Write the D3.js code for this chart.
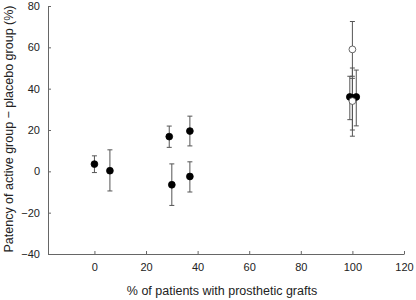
<!DOCTYPE html>
<html>
<head>
<meta charset="utf-8">
<script src="https://cdn.jsdelivr.net/npm/d3@7"></script>
<style>
  body { margin: 0; background: #fff; }
  text { font-family: "Liberation Sans", Arial, sans-serif; fill: #222; }
</style>
</head>
<body>
<script>
// trials: % prosthetic grafts, patency difference, error bar low/high, open marker?
var xPct   = [0,   6,    29,   37,   30,   37,    99,  100,  101.5, 100,  100];
var yDiff  = [3.5, 0.3,  16.8, 19.5, -6.5, -2.5,  36,  35.5, 36,    59,   34];
var yLow   = [-0.6, -9.5, 11.6, 12.3, -16.5, -10, 25,  20,   22,    46,   17];
var yHigh  = [7.5, 10.4, 21.9, 26.7, 3.6,  4.6,   46,  45,   49,    72.5, 50];
var isOpen = [0,   0,    0,    0,    0,    0,     0,   0,    0,     1,    1];

var xTicks = [0, 20, 40, 60, 80, 100, 120];
var yTicks = [-40, -20, 0, 20, 40, 60, 80];

var w = 416, h = 300;
var svg = d3.select("body").append("svg")
  .attr("width", w).attr("height", h);

var x = d3.scaleLinear().domain([-18, 120]).range([48, 404]);
var y = d3.scaleLinear().domain([-40, 80]).range([254, 6]);

// axes, ticks pointing inward
var xAxis = svg.append("g")
  .attr("transform", "translate(0," + y(-40) + ")")
  .call(d3.axisBottom(x).tickValues(xTicks).tickSize(-3).tickPadding(9).tickSizeOuter(0));
var yAxis = svg.append("g")
  .attr("transform", "translate(" + x(-18) + ",0)")
  .call(d3.axisLeft(y).tickValues(yTicks).tickSize(-3).tickPadding(8).tickSizeOuter(0));

[xAxis, yAxis].forEach(function(a) {
  a.select(".domain").attr("stroke", "#666").attr("stroke-width", 1);
  a.selectAll(".tick line").attr("stroke", "#666");
  a.selectAll(".tick text").style("font-size", "11px").attr("fill", "#222")
    .style("font-family", "'Liberation Sans', Arial, sans-serif");
});
yAxis.selectAll(".tick text").text(function(d) { return d < 0 ? "\u2212" + Math.abs(d) : d; });

var pts = xPct.map(function(v, i) {
  return {x: v, y: yDiff[i], lo: yLow[i], hi: yHigh[i], open: isOpen[i]};
});

// error bars
var eb = svg.append("g").attr("stroke", "#555").attr("stroke-width", 1);
pts.forEach(function(d) {
  var cx = x(d.x);
  eb.append("line").attr("x1", cx).attr("x2", cx).attr("y1", y(d.lo)).attr("y2", y(d.hi));
  eb.append("line").attr("x1", cx - 2.5).attr("x2", cx + 2.5).attr("y1", y(d.lo)).attr("y2", y(d.lo));
  eb.append("line").attr("x1", cx - 2.5).attr("x2", cx + 2.5).attr("y1", y(d.hi)).attr("y2", y(d.hi));
});

// markers
svg.append("g").selectAll("circle")
  .data(pts).enter().append("circle")
  .attr("cx", function(d) { return x(d.x); })
  .attr("cy", function(d) { return y(d.y); })
  .attr("r", 3.4)
  .attr("fill", function(d) { return d.open ? "#fff" : "#000"; })
  .attr("stroke", function(d) { return d.open ? "#444" : "#000"; })
  .attr("stroke-width", 0.8);

// axis titles
svg.append("text")
  .attr("x", 222).attr("y", 295)
  .attr("text-anchor", "middle")
  .style("font-size", "12.5px")
  .text("% of patients with prosthetic grafts");

svg.append("text")
  .attr("transform", "translate(13," + 129 + ") rotate(-90)")
  .attr("text-anchor", "middle")
  .style("font-size", "12.5px")
  .text("Patency of active group \u2212 placebo group (%)");
</script>
</body>
</html>
